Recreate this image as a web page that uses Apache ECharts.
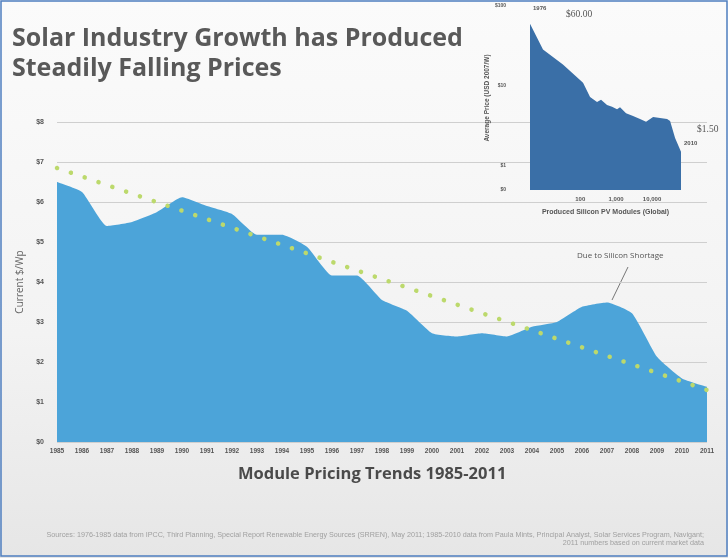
<!DOCTYPE html>
<html><head><meta charset="utf-8">
<script src="https://cdn.jsdelivr.net/npm/echarts@6/dist/echarts.min.js"></script>
<style>html,body{margin:0;padding:0;}#c{width:728px;height:558px;}</style>
</head><body><div id="c"></div>
<script>
// Main chart data
var years = ['1985','1986','1987','1988','1989','1990','1991','1992','1993','1994','1995','1996','1997','1998','1999','2000','2001','2002','2003','2004','2005','2006','2007','2008','2009','2010','2011'];
var prices = [6.5,6.25,5.4,5.5,5.75,6.12,5.9,5.7,5.18,5.18,4.88,4.16,4.16,3.55,3.28,2.72,2.64,2.72,2.64,2.88,3.0,3.38,3.49,3.22,2.13,1.59,1.38];
var trendYears = ['1985','2011'];
var trendValues = [6.85, 1.3];
var yTicks = ['$0','$1','$2','$3','$4','$5','$6','$7','$8'];
// Inset (experience curve) data: [cumulative modules produced, price]
var insetVolume = [4,9.2,33,120,188,294,380,558,770,1060,1285,1890,2960,4630,6810,10700,16700,26200,31800,43800,64000];
var insetPrice  = [60,28.6,18.5,11,7.3,6.3,6.7,5.8,5.5,5.1,5.4,4.56,4.2,3.86,3.56,4.08,3.97,3.86,3.65,2.23,1.5];
var insetXTicks = {100:'100',1000:'1,000',10000:'10,000'};
var insetYTicks = {0.5:'$0',1:'$1',10:'$10',100:'$100'};

var chart = echarts.init(document.getElementById('c'));
var trendData = trendYears.map(function(y,i){return [years.indexOf(y), trendValues[i]];});
var insetData = insetVolume.map(function(v,i){return [v, insetPrice[i]];});
var lab = {fontFamily:'Liberation Sans', fontWeight:'bold', color:'#555'};

chart.setOption({
  backgroundColor: {type:'linear',x:0,y:0,x2:0,y2:1,colorStops:[{offset:0,color:'#fbfbfb'},{offset:0.6,color:'#f3f3f3'},{offset:1,color:'#e6e6e6'}]},
  animation:false,
  graphic:[
    {type:'rect',shape:{x:1,y:1,width:726,height:555},style:{fill:'none',stroke:'#4f7fc0',lineWidth:1.5},z:100},
    {type:'text',left:12,top:24,style:{text:'Solar Industry Growth has Produced\nSteadily Falling Prices',font:'bold 25px "Open Sans"',fill:'#595959',lineHeight:30}},
    {type:'text',left:238,top:466,style:{text:'Module Pricing Trends 1985-2011',font:'bold 16.5px "Open Sans"',fill:'#4a4a4a'}},
    {type:'text',left:577,top:252,style:{text:'Due to Silicon Shortage',font:'8px "Open Sans"',fill:'#555'}},
    {type:'line',shape:{x1:628,y1:267,x2:612,y2:300},style:{stroke:'#777',lineWidth:1}},
    {type:'text',left:533,top:5,style:{text:'1976',font:'bold 6px "Liberation Sans"',fill:'#555'}},
    {type:'text',left:566,top:9,style:{text:'$60.00',font:'9.5px "Liberation Serif"',fill:'#555'}},
    {type:'text',left:697,top:124,style:{text:'$1.50',font:'9.5px "Liberation Serif"',fill:'#555'}},
    {type:'text',left:684,top:140,style:{text:'2010',font:'bold 6px "Liberation Sans"',fill:'#555'}},
    {type:'text',right:24,top:532,style:{text:'Sources: 1976-1985 data from IPCC, Third Planning, Special Report Renewable Energy Sources (SRREN), May 2011; 1985-2010 data from Paula Mints, Principal Analyst, Solar Services Program, Navigant;',font:'7.2px "Liberation Sans"',fill:'#a0a0a0'}},
    {type:'text',right:24,top:540,style:{text:'2011 numbers based on current market data',font:'7.2px "Liberation Sans"',fill:'#a0a0a0'}}
  ],
  grid:[
    {left:57,right:21,top:122,bottom:116},
    {left:530,right:47,top:6,bottom:368}
  ],
  xAxis:[
    {type:'category',gridIndex:0,data:years,boundaryGap:false,
     axisLine:{show:false},axisTick:{show:false},
     axisLabel:Object.assign({fontSize:6.5,margin:6,interval:0},lab)},
    {type:'log',gridIndex:1,min:4,max:64000,logBase:10,
     axisLine:{show:false},axisTick:{show:false},splitLine:{show:false},
     axisLabel:Object.assign({fontSize:6,margin:6,formatter:function(v){return insetXTicks[v]||'';}},lab),
     name:'Produced Silicon PV Modules (Global)',nameLocation:'middle',nameGap:19,
     nameTextStyle:{fontFamily:'Liberation Sans',fontWeight:'bold',fontSize:7,color:'#555'}}
  ],
  yAxis:[
    {type:'value',gridIndex:0,min:0,max:8,interval:1,
     axisLine:{show:false},axisTick:{show:false},
     splitLine:{lineStyle:{color:'#cfcfcf',width:1}},
     axisLabel:Object.assign({fontSize:7,margin:13,formatter:function(v){return yTicks[v];}},lab),
     name:'Current $/Wp',nameLocation:'middle',nameGap:30,
     nameTextStyle:{fontFamily:'Open Sans',fontSize:10,color:'#666'}},
    {type:'log',gridIndex:1,min:0.5,max:100,logBase:10,
     axisLine:{show:false},axisTick:{show:false},splitLine:{show:false},
     axisLabel:Object.assign({fontSize:5,margin:24,showMinLabel:true,formatter:function(v){return insetYTicks[v]!==undefined?insetYTicks[v]:'';}},lab),
     name:'Average Price (USD 2007/W)',nameLocation:'middle',nameGap:14,
     nameTextStyle:{fontFamily:'Liberation Sans',fontWeight:'bold',fontSize:6.5,color:'#555'}}
  ],
  series:[
    {type:'line',xAxisIndex:0,yAxisIndex:0,data:prices,smooth:0.15,symbol:'none',
     lineStyle:{width:0},areaStyle:{color:'#4ca4d9',opacity:1},z:2},
    {type:'line',xAxisIndex:0,yAxisIndex:0,data:trendData,symbol:'none',
     lineStyle:{color:'#bcd96c',width:4.5,type:[0.1,14.5],cap:'round'},z:3},
    {type:'line',xAxisIndex:1,yAxisIndex:1,data:insetData,symbol:'none',
     lineStyle:{width:0},areaStyle:{color:'#3a6fa7',opacity:1,origin:'start'},z:2}
  ]
});
</script></body></html>
